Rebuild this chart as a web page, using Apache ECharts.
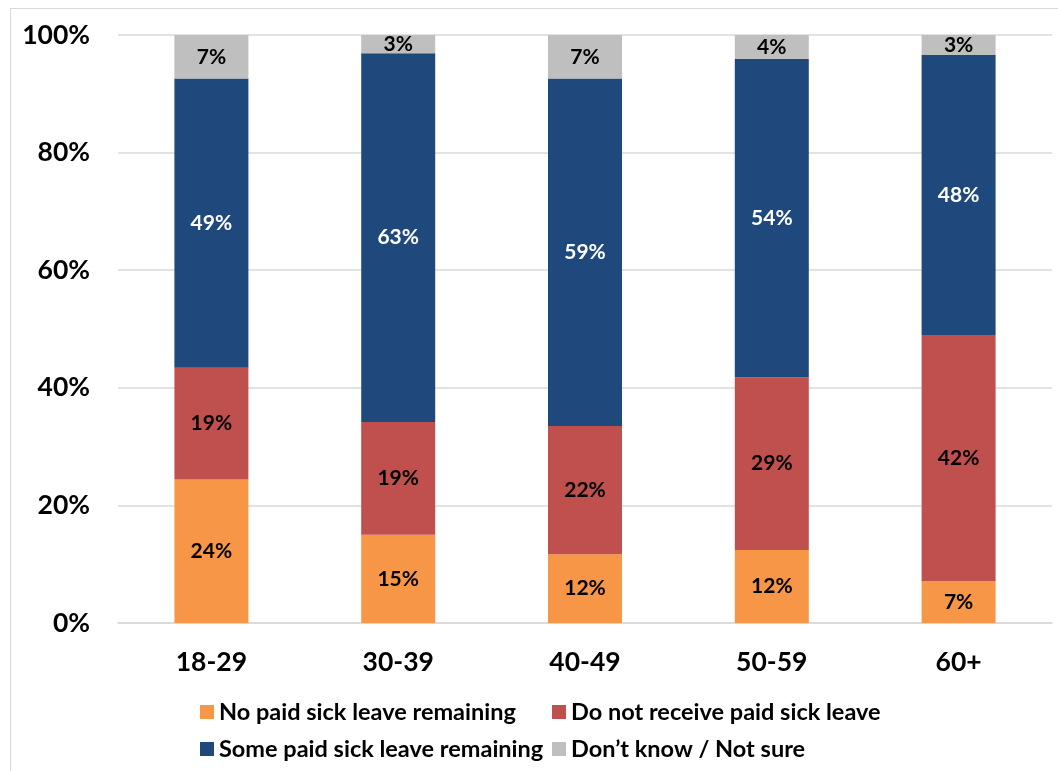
<!DOCTYPE html>
<html>
<head>
<meta charset="utf-8">
<script src="https://cdn.jsdelivr.net/npm/echarts@6/dist/echarts.min.js"></script>
<style>
    html, body { margin: 0; padding: 0; background: #fff; }
    #frame { position: absolute; left: 10px; top: 8px; width: 1100px; height: 800px; border: 1px solid #d9d9d9; }
    #chart { position: absolute; left: 0; top: 0; width: 1058px; height: 771px; }
</style>
</head>
<body>
<div id="frame"></div>
<div id="chart"></div>
<script>
    // age groups
    var categories = ['18-29', '30-39', '40-49', '50-59', '60+'];
    // shares in percent
    var noPaidLeft = [24.4, 15.0, 11.7, 12.4, 7.1];
    var notReceive = [19.0, 19.2, 21.8, 29.4, 41.9];
    var somePaidLeft = [49.2, 62.7, 59.1, 54.1, 47.6];
    var dontKnow = [7.4, 3.1, 7.4, 4.1, 3.4];
    var yTicks = [0, 20, 40, 60, 80, 100];

    var names = ['No paid sick leave remaining', 'Do not receive paid sick leave',
        'Some paid sick leave remaining', 'Don\u2019t know / Not sure'];
    var colors = ['#F79646', '#C0504D', '#1F497D', '#BFBFBF'];
    var labelColors = ['#000', '#000', '#fff', '#000'];
    var font = 'Lato, "Open Sans", sans-serif';

    var chart = echarts.init(document.getElementById('chart'));

    function makeSeries(i, data) {
        return {
            name: names[i],
            type: 'bar',
            stack: 'total',
            barWidth: 74,
            data: data,
            itemStyle: { color: colors[i] },
            label: {
                show: true,
                position: 'inside',
                color: labelColors[i],
                fontFamily: font,
                fontWeight: 'bold',
                fontSize: 21,
                formatter: function (p) { return Math.round(p.value) + '%'; }
            }
        };
    }

    var legendText = { fontSize: 23.5, fontWeight: 'bold', color: '#000', fontFamily: font };

    chart.setOption({
        animation: false,
        textStyle: { fontFamily: font },
        grid: { left: 118, right: 6, top: 35, bottom: 148 },
        legend: [
            {
                orient: 'vertical', left: 195, top: 695, itemGap: 13,
                itemWidth: 14, itemHeight: 14, icon: 'rect',
                data: [names[0], names[2]],
                textStyle: legendText
            },
            {
                orient: 'vertical', left: 547, top: 695, itemGap: 13,
                itemWidth: 14, itemHeight: 14, icon: 'rect',
                data: [names[1], names[3]],
                textStyle: legendText
            }
        ],
        xAxis: {
            type: 'category',
            data: categories,
            axisLine: { lineStyle: { color: '#d9d9d9', width: 1.5 } },
            axisTick: { show: false },
            axisLabel: { margin: 26, fontSize: 26.5, fontWeight: 'bold', color: '#000', fontFamily: font }
        },
        yAxis: {
            type: 'value',
            min: yTicks[0],
            max: yTicks[yTicks.length - 1],
            interval: 20,
            axisLine: { show: false },
            axisTick: { show: false },
            splitLine: { lineStyle: { color: '#d9d9d9', width: 1.5 } },
            axisLabel: { margin: 28, fontSize: 26.5, fontWeight: 'bold', color: '#000', fontFamily: font,
                formatter: '{value}%' }
        },
        series: [
            makeSeries(0, noPaidLeft),
            makeSeries(1, notReceive),
            makeSeries(2, somePaidLeft),
            makeSeries(3, dontKnow)
        ]
    });
</script>
</body>
</html>
